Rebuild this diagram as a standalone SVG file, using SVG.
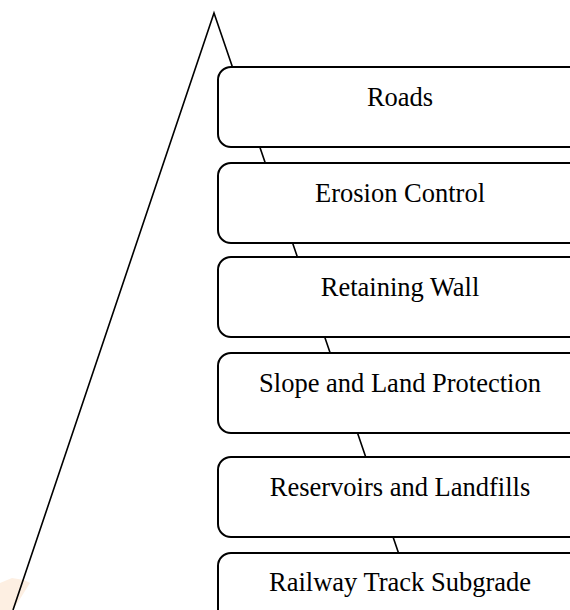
<svg xmlns="http://www.w3.org/2000/svg" width="570" height="610" viewBox="0 0 570 610">
<style>
.box{fill:#fff;stroke:#000;stroke-width:2}
.lbl{font-family:"Liberation Serif","Times New Roman",serif;font-size:26.5px;fill:#000;text-anchor:middle}
.tri{fill:none;stroke:#000;stroke-width:1.6}
</style>
<rect width="570" height="610" fill="#fff"/>
<polygon points="0,583 12,578 24,580 30,583 13,610 0,610" fill="#fdefe2"/>
<g id="connectors">
<polyline class="tri" points="13,610 214,13 418,610"/>
</g>
<g id="roads"><rect class="box" x="218" y="67" width="364" height="80" rx="13"/><text class="lbl" x="400" y="106">Roads</text></g>
<g id="erosion"><rect class="box" x="218" y="163" width="364" height="80" rx="13"/><text class="lbl" x="400" y="202">Erosion Control</text></g>
<g id="retaining"><rect class="box" x="218" y="257" width="364" height="80" rx="13"/><text class="lbl" x="400" y="296">Retaining Wall</text></g>
<g id="slope"><rect class="box" x="218" y="353" width="364" height="80" rx="13"/><text class="lbl" x="400" y="392">Slope and Land Protection</text></g>
<g id="reservoirs"><rect class="box" x="218" y="457" width="364" height="80" rx="13"/><text class="lbl" x="400" y="496">Reservoirs and Landfills</text></g>
<g id="railway"><rect class="box" x="218" y="553" width="364" height="80" rx="13"/><text class="lbl" x="400" y="591">Railway Track Subgrade</text></g>
</svg>
